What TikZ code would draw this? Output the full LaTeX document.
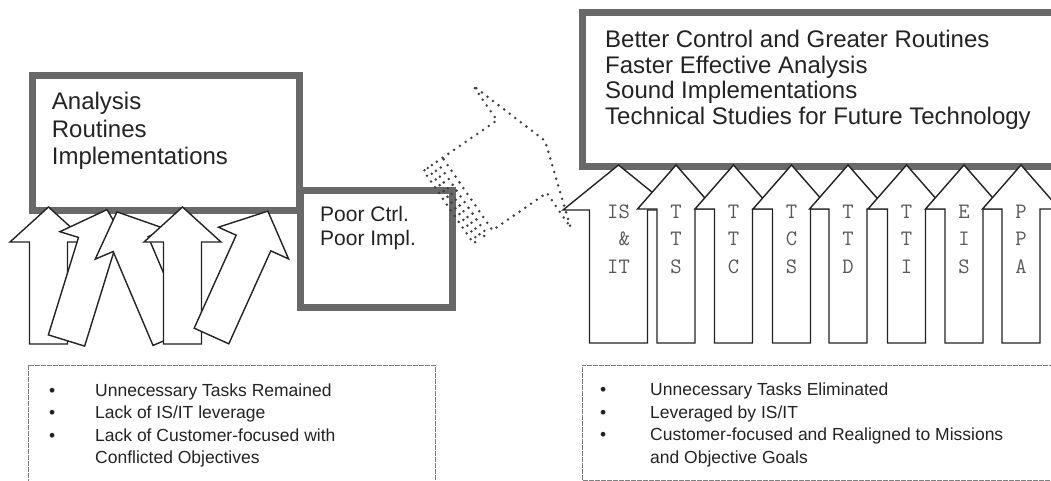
\documentclass[tikz,border=0pt]{standalone}
\usepackage{fontspec}
\setmainfont{Liberation Sans}
\definecolor{bordergray}{RGB}{105,105,105}
\definecolor{inkgray}{RGB}{35,35,35}
\begin{document}
\begin{tikzpicture}[x=1pt,y=-1pt,
  thickbox/.style={draw=bordergray, line width=7pt, fill=white, inner sep=0pt, anchor=north west},
  blockarrow/.style={draw=inkgray, line width=1.4pt, fill=white, line join=miter},
  dotline/.style={draw=black!75, line width=2.8pt, dash pattern=on 0pt off 7pt, line cap=round},
  listbox/.style={draw=black!50, line width=0.7pt, dash pattern=on 5pt off 1pt},
  boxtext/.style={anchor=base west, inner sep=0pt, text=inkgray},
  arrtext/.style={anchor=base, inner sep=0pt, text=black!65, font=\fontsize{22}{27.5}\ttfamily},
  listtext/.style={anchor=base west, inner sep=0pt, text=inkgray, font=\fontsize{17.5}{22.5}\selectfont}]
\clip (0,0) rectangle (1051,481);
\fill[white] (0,0) rectangle (1051,481);

% ---------- left side ----------
\node[thickbox, minimum width=267pt, minimum height=134pt] (leftbox) at (28.5,72.5) {};
\node[thickbox, minimum width=151.5pt, minimum height=117pt] (poorbox) at (297,187) {};
\node[boxtext, font=\fontsize{24}{27.5}\selectfont] (lefttext) at (51.7,110)
  {\begin{tabular}[t]{@{}l@{}}Analysis\\Routines\\Implementations\end{tabular}};
\node[boxtext, font=\fontsize{21}{23.5}\selectfont] (poortext) at (320,221.7)
  {\begin{tabular}[t]{@{}l@{}}Poor Ctrl.\\Poor Impl.\end{tabular}};

% tangled arrows
\draw[blockarrow, shift={(48.5,344)}] (-19,0) -- (-19,-102) -- (-38.5,-102) -- (0,-137) -- (38.5,-102) -- (19,-102) -- (19,0) -- cycle;
\draw[blockarrow, shift={(66.5,340.5)}, rotate=-17.2] (-19,0) -- (-19,-102) -- (-38.5,-102) -- (0,-137) -- (38.5,-102) -- (19,-102) -- (19,0) -- cycle;
\draw[blockarrow, shift={(170.5,338)}, rotate=23] (-19,0) -- (-19,-102) -- (-38.5,-102) -- (0,-137) -- (38.5,-102) -- (19,-102) -- (19,0) -- cycle;
\draw[blockarrow, shift={(182.5,344)}] (-19,0) -- (-19,-102) -- (-38.5,-102) -- (0,-137) -- (38.5,-102) -- (19,-102) -- (19,0) -- cycle;
\draw[blockarrow, shift={(211.5,336)}, rotate=-24.3] (-19,0) -- (-19,-102) -- (-38.5,-102) -- (0,-137) -- (38.5,-102) -- (19,-102) -- (19,0) -- cycle;

% ---------- dotted striped arrow ----------
\begin{scope}[shift={(467.5,194)}, rotate=34.5]
  \draw[dotline] (0,-44) -- (66,-44) -- (66,-86) -- (94,0) -- (66,86) -- (66,44) -- (0,44) -- cycle;
  \draw[dotline] (-7,-44) rectangle (-13,44);
  \draw[dotline] (-18,-44) rectangle (-23,44);
\end{scope}

% ---------- right side ----------
\node[thickbox, minimum width=600pt, minimum height=154.5pt] (rightbox) at (579,9) {};
\node[boxtext, font=\fontsize{24}{25.5}\selectfont] (righttext) at (605,48)
  {\begin{tabular}[t]{@{}l@{}}Better Control and Greater Routines\\Faster Effective Analysis\\Sound Implementations\\Technical Studies for Future Technology\end{tabular}};

\draw[blockarrow] (589.5,343) -- (589.5,210) -- (563,210) -- (618.5,165) -- (674,210) -- (647.5,210) -- (647.5,343) -- cycle;
\node[arrtext] (isit) at (618.5,218.5) {\begin{tabular}[t]{@{}c@{}}IS\\\hphantom{I}\&\\IT\end{tabular}};
\foreach \cx/\la/\lb/\lc/\nm in {676/T/T/S/tts, 733.5/T/T/C/ttc, 791.5/T/C/S/tcs, 848/T/T/D/ttd, 906.5/T/T/I/tti, 964/E/I/S/eis, 1021/P/P/A/ppa}{
  \draw[blockarrow, shift={(\cx,0)}] (-19,343) -- (-19,209) -- (-38.5,209) -- (0,165) -- (38.5,209) -- (19,209) -- (19,343) -- cycle;
  \node[arrtext] (\nm) at (\cx,218.5) {\begin{tabular}[t]{@{}c@{}}\la\\\lb\\\lc\end{tabular}};
}

% ---------- bottom lists ----------
\draw[listbox] (28,490) -- (28,365) -- (435,365) -- (435,490);
\node[listtext] (leftlist) at (49,396)
  {\begin{tabular}[t]{@{}p{46pt}@{}l@{}}\textbullet & Unnecessary Tasks Remained\\ \textbullet & Lack of IS/IT leverage\\ \textbullet & Lack of Customer-focused with\\ & Conflicted Objectives\end{tabular}};
\draw[listbox] (1060,365) -- (582,365) -- (582,480) -- (1060,480);
\node[listtext] (rightlist) at (600,395.5)
  {\begin{tabular}[t]{@{}p{50pt}@{}l@{}}\textbullet & Unnecessary Tasks Eliminated\\ \textbullet & Leveraged by IS/IT\\ \textbullet & Customer-focused and Realigned to Missions\\ & and Objective Goals\end{tabular}};
\end{tikzpicture}
\end{document}
